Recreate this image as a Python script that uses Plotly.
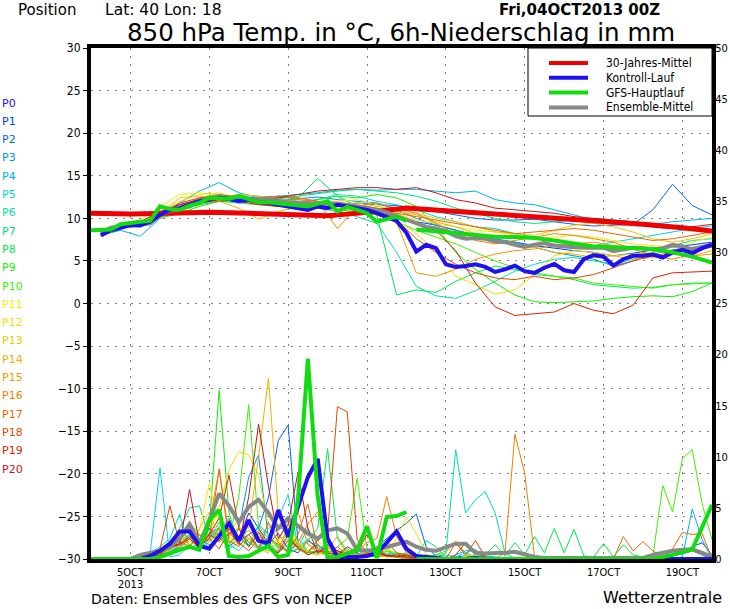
import plotly.graph_objects as go

# time axis in hours after Fri 04 Oct 2013 00Z
hours_6h = list(range(6, 379, 6))
hours_12h = list(range(6, 379, 12))
main_hours_1 = list(range(0, 193, 6))
main_hours_2 = list(range(198, 379, 12))
clim_hours = [0, 24, 48, 72, 96, 120, 144, 168, 192, 216, 240, 264, 288, 312, 336, 360, 378]

tick_hours = [24, 72, 120, 168, 216, 264, 312, 360]
tick_labels = ["5OCT", "7OCT", "9OCT", "11OCT", "13OCT", "15OCT", "17OCT", "19OCT"]
year_label = "2013"

member_names = ["P%d" % i for i in range(21)]
member_colors = ["#2010f0", "#0040f0", "#0068f0", "#0090f0", "#00b0f0", "#00d4ec",
                 "#00e0a8", "#00e080", "#00e850", "#10f000", "#40f000", "#f0f000",
                 "#f0e000", "#f0c800", "#f0b000", "#f09800", "#f08000", "#e86800",
                 "#e04800", "#d02800", "#c01818"]

legend_names = ["30-Jahres-Mittel", "Kontroll-Lauf", "GFS-Hauptlauf", "Ensemble-Mittel"]
legend_colors = ["#f00000", "#2010f0", "#10dc10", "#888888"]

# 30-Jahres-Mittel
clim_temp = [10.6, 10.5, 10.6, 10.7, 10.6, 10.5, 10.3, 10.7, 11.2, 10.9, 10.6, 10.3, 9.9, 9.6, 9.3, 8.9, 8.5]

# Kontroll-Lauf (P0), 6h
control_temp = [8.0, 8.6, 8.9, 9.2, 9.2, 9.6, 10.4, 11.0, 11.2, 11.6,
                12.0, 12.2, 12.4, 12.3, 12.0, 12.2, 11.9, 11.8, 11.6, 11.5,
                11.2, 11.0, 11.4, 11.2, 11.6, 11.4, 11.2, 11.0, 10.6, 10.2,
                9.7, 8.3, 6.1, 6.9, 6.5, 4.6, 4.3, 4.4, 4.6, 4.3,
                3.7, 4.0, 4.45, 3.8, 3.6, 4.2, 4.65, 3.9, 3.7, 5.2,
                5.7, 5.5, 4.45, 5.2, 5.6, 5.6, 5.75, 5.4, 6.0, 6.3,
                5.9, 6.5, 6.9]
control_prec = [0, 0, 0, 0, 0, 0.3, 0.8, 1.5, 2.7, 2.7,
                1.3, 1.0, 2.2, 3.5, 1.8, 3.8, 1.8, 1.5, 4.8, 2.2,
                5.1, 8.0, 9.8, 2.0, 0.2, 0.2, 0.2, 0.3, 0.6, 1.6,
                2.7, 1.0, 0.3, 0.2, 0.1, 0, 0, 0, 0.1, 0,
                0, 0, 0, 0, 0, 0, 0, 0, 0, 0,
                0, 0, 0, 0, 0, 0, 0, 0, 0, 0,
                0, 0, 0]

# Ensemble-Mittel, 6h
mean_temp = [8.3, 8.9, 9.0, 9.15, 9.3, 9.4, 10.4, 10.9, 11.1, 11.4,
             12.1, 12.4, 12.5, 12.4, 12.3, 12.2, 12.2, 12.2, 12.0, 11.9,
             11.8, 11.8, 11.8, 11.8, 11.7, 11.6, 11.4, 11.3, 11.0, 10.7,
             10.3, 9.9, 9.4, 9.0, 8.8, 8.5, 7.9, 7.6, 7.7, 7.6,
             7.3, 7.2, 6.9, 6.65, 6.9, 7.1, 6.8, 6.65, 6.6, 6.55,
             6.5, 6.55, 6.15, 6.3, 6.55, 6.5, 6.35, 6.5, 6.9, 6.7,
             6.35, 6.6, 6.9]
mean_prec = [0, 0, 0, 0, 0.4, 0.6, 0.8, 1.2, 2.0, 3.4,
             1.5, 3.8, 6.4, 5.2, 3.6, 5.1, 5.8, 4.5, 3.0, 4.0,
             3.2, 2.5, 2.0, 2.8, 3.0, 2.5, 0.9, 0.8, 0.9, 1.2,
             1.5, 1.7, 1.2, 0.9, 0.8, 1.2, 1.5, 1.5, 0.6, 0.55,
             0.55, 0.6, 0.7, 0.4, 0.2, 0.1, 0.1, 0.1, 0.1, 0.1,
             0.1, 0.1, 0.1, 0.1, 0.1, 0.1, 0.4, 0.6, 0.8, 0.9,
             0.95, 0.6, 0.2]

# GFS-Hauptlauf: 6h up to 192h, then 12h
main_temp_1 = [8.6, 8.6, 8.7, 9.3, 9.5, 9.6, 9.7, 11.4, 11.1, 11.0,
               11.5, 11.8, 12.4, 12.4, 12.3, 12.6, 12.2, 11.9, 11.9, 11.8,
               11.6, 11.5, 11.4, 11.7, 12.0, 10.8, 11.35, 11.0, 10.6, 9.6,
               9.85, 10.2, 9.7]
main_temp_2 = [8.7, 8.5, 8.2, 8.0, 7.85, 7.8, 7.7, 7.4, 7.0, 6.7, 6.6, 6.55, 6.4, 6.0, 5.5, 4.8]
main_prec_1 = [0, 0, 0, 0, 0, 0, 0, 0.2, 0.6, 0.9,
               1.2, 0.9, 3.8, 4.8, 0.3, 0.2, 0.3, 0.8, 1.3, 0.2,
               0.4, 5.8, 19.6, 6.1, 0.1, 0.2, 0.6, 0.9, 3.2, 0.1,
               4.1, 4.2, 4.6]
main_prec_2 = [0, 0, 0, 0, 0, 0, 0, 0, 0, 0, 0, 0, 0, 0.4, 0.95, 5.3]

# members P1..P20, temperature every 12h
member_temp = [
    [8.0, 8.8, 9.4, 10.5, 11.6, 12.2, 12.6, 12.0, 11.8, 11.6, 11.5, 11.9, 11.6, 11.3, 10.8, 10.2,
     9.6, 9.2, 8.6, 8.0, 7.5, 7.2, 6.8, 6.5, 6.2, 6.0, 5.6, 5.9, 6.3, 6.6, 6.9, 7.2],
    [8.3, 9.1, 9.0, 10.0, 11.0, 12.4, 12.8, 12.5, 12.3, 12.2, 11.6, 11.4, 11.5, 11.8, 11.6, 11.5,
     11.2, 10.8, 10.4, 10.0, 9.8, 9.8, 9.9, 9.6, 9.3, 9.1, 9.2, 9.3, 11.0, 14.0, 11.5, 10.4],
    [8.1, 9.2, 9.6, 10.4, 11.0, 11.8, 12.2, 12.6, 12.4, 12.0, 12.3, 12.5, 12.2, 12.0, 11.8, 11.0,
     10.0, 9.2, 8.6, 8.0, 7.6, 7.2, 6.6, 6.0, 5.6, 5.2, 4.4, 5.0, 5.8, 6.3, 6.6, 7.0],
    [8.0, 8.6, 7.9, 10.0, 11.8, 13.2, 14.2, 13.0, 12.4, 12.6, 12.8, 13.0, 13.3, 13.4, 13.3, 13.4,
     13.4, 13.2, 13.0, 13.2, 12.2, 11.8, 11.6, 11.0, 10.4, 9.8, 9.4, 9.3, 9.3, 9.6, 9.8, 10.0],
    [8.4, 9.0, 9.2, 10.6, 11.4, 12.0, 12.2, 12.8, 12.6, 12.4, 12.0, 12.2, 12.8, 12.6, 12.0, 11.6,
     11.0, 10.2, 9.6, 9.0, 8.8, 8.2, 7.8, 7.4, 7.0, 6.8, 7.2, 7.6, 8.0, 8.4, 8.8, 9.1],
    [8.2, 8.8, 9.4, 10.2, 11.0, 11.6, 12.0, 11.8, 11.6, 11.8, 11.4, 11.2, 10.8, 10.2, 9.4, 6.0,
     2.0, 0.9, 0.6, 1.5, 2.6, 3.8, 4.6, 5.2, 5.4, 5.0, 4.6, 5.2, 6.0, 6.8, 7.4, 7.6],
    [8.3, 9.2, 9.5, 10.4, 11.2, 12.2, 12.6, 12.3, 12.1, 12.4, 12.6, 12.9, 13.2, 13.4, 13.2, 13.0,
     12.6, 12.0, 11.2, 10.6, 10.0, 9.6, 9.4, 9.6, 9.8, 10.0, 9.8, 9.6, 9.4, 9.0, 8.8, 8.6],
    [8.2, 9.1, 9.0, 10.2, 11.2, 12.0, 12.2, 12.0, 11.9, 12.1, 12.4, 14.7, 12.6, 11.4, 10.4, 1.0,
     1.6, 1.3, 2.6, 3.6, 4.4, 4.0, 3.4, 3.2, 2.8, 2.2, 2.0, 1.8, 1.9, 2.2, 2.4, 2.4],
    [8.4, 9.3, 9.2, 10.0, 10.6, 11.4, 12.0, 12.0, 11.8, 11.6, 11.8, 12.2, 12.6, 12.4, 12.8, 12.4,
     11.4, 9.0, 6.0, 4.0, 2.4, 1.0, 0.2, 0.1, 0.2, 0.3, 0.6, 0.8, 0.9, 0.8, 1.4, 2.4],
    [8.0, 8.8, 9.2, 10.2, 11.0, 11.8, 12.4, 12.4, 12.0, 11.6, 11.4, 11.2, 11.0, 10.8, 10.4, 9.6,
     8.6, 7.8, 7.0, 6.0, 5.0, 4.2, 3.6, 3.2, 3.0, 2.4, 2.2, 2.0, 1.8, 2.2, 2.3, 2.4],
    [8.6, 9.4, 9.8, 11.4, 12.8, 13.0, 12.6, 12.0, 11.6, 11.4, 11.6, 11.8, 12.0, 12.2, 11.6, 10.6,
     9.8, 9.4, 9.0, 8.6, 8.4, 8.0, 7.6, 7.8, 8.0, 7.8, 7.4, 7.0, 6.8, 6.6, 7.2, 7.8],
    [8.3, 9.0, 9.4, 10.8, 12.0, 12.8, 13.0, 12.4, 12.2, 12.0, 11.6, 11.2, 11.0, 11.4, 11.2, 9.8,
     8.2, 6.2, 3.2, 2.2, 1.1, 1.6, 3.4, 5.6, 6.2, 6.0, 5.6, 5.8, 6.0, 6.2, 6.6, 6.8],
    [8.0, 8.8, 9.6, 10.6, 12.4, 12.6, 12.4, 12.8, 12.6, 12.2, 12.0, 11.6, 11.6, 11.8, 11.4, 11.0,
     10.6, 10.0, 9.6, 9.0, 8.4, 8.2, 8.0, 8.6, 9.2, 9.4, 9.0, 8.4, 7.6, 7.2, 7.6, 8.2],
    [8.5, 9.2, 9.1, 10.0, 11.0, 12.2, 12.0, 11.2, 9.9, 10.8, 11.4, 11.2, 11.4, 11.6, 11.2, 10.8,
     10.4, 9.6, 9.0, 8.2, 7.4, 7.0, 6.6, 6.0, 5.8, 5.4, 5.6, 5.2, 5.4, 5.8, 5.6, 6.2],
    [8.2, 9.0, 9.3, 10.4, 11.2, 12.0, 12.2, 12.2, 12.0, 11.6, 11.8, 11.6, 11.2, 11.0, 10.4, 9.6,
     3.6, 3.2, 4.0, 5.2, 5.8, 6.2, 6.4, 6.8, 7.0, 7.2, 6.8, 6.6, 6.4, 6.0, 5.6, 5.8],
    [8.1, 9.3, 9.5, 10.2, 11.4, 12.4, 12.8, 12.2, 12.4, 12.6, 12.2, 12.0, 8.8, 11.4, 11.8, 11.2,
     10.6, 9.4, 8.2, 7.4, 7.0, 7.4, 7.8, 8.2, 8.0, 7.6, 7.2, 6.4, 5.6, 5.2, 5.8, 6.8],
    [8.0, 8.9, 9.2, 10.4, 11.2, 11.8, 12.0, 12.2, 12.4, 12.6, 12.4, 12.0, 11.8, 11.2, 10.8, 10.6,
     10.2, 9.8, 9.4, 9.0, 8.6, 8.2, 8.4, 8.6, 8.8, 8.6, 8.2, 7.8, 7.4, 7.6, 8.0, 8.4],
    [8.4, 9.0, 9.2, 10.6, 11.8, 12.4, 12.6, 12.6, 12.2, 12.0, 11.8, 11.6, 11.6, 11.4, 11.0, 9.8,
     7.6, 6.0, 4.6, 3.6, 3.0, 2.8, 3.2, 2.8, 3.0, 3.4, 4.2, 5.0, 5.6, 6.0, 6.2, 6.6],
    [8.2, 9.1, 9.4, 10.4, 11.2, 11.8, 12.2, 12.0, 11.6, 11.4, 11.6, 11.8, 11.6, 11.2, 10.8, 10.2,
     9.4, 8.6, 6.2, 2.4, -0.4, -1.4, -1.2, -1.0, 0.0, -0.8, -1.2, -0.2, 3.0, 3.6, 3.7, 3.8],
    [8.3, 9.2, 9.6, 10.8, 11.6, 12.2, 12.4, 12.2, 12.0, 12.4, 12.8, 13.2, 13.4, 13.6, 13.6, 13.4,
     13.6, 13.0, 12.2, 11.8, 11.2, 11.0, 10.8, 10.6, 10.2, 10.0, 9.8, 9.6, 9.0, 8.8, 9.0, 9.3],
]

# members P1..P20, 6h precipitation
member_prec = [
    [0, 0, 0, 0, 0, 0.3, 0.6, 1.0, 2.0, 3.0, 1.5, 2.5, 3.0, 1.2, 2.0, 4.5, 3.0, 1.5, 2.5, 1.0,
     0.6, 1.8, 1.2, 0.5, 0.8, 0.4, 0.2, 0.6, 0.8, 0.4, 0.2, 0.3, 0.1, 0, 0, 0, 0.2, 0.3, 0.1, 0,
     0, 0, 0, 0, 0, 0, 0, 0, 0, 0, 0, 0, 0, 0, 0, 0, 0, 0.2, 0.4, 0.6, 1.2, 1.6, 0.4],
    [0, 0, 0, 0, 0, 0.2, 0.5, 0.8, 1.2, 2.2, 1.0, 3.0, 2.2, 3.6, 1.8, 2.4, 3.0, 6.0, 11.6, 13.1,
     1.6, 0.8, 1.4, 0.6, 0.3, 0.2, 0.4, 0.6, 1.2, 2.0, 2.8, 3.5, 4.4, 1.2, 0.3, 0.1, 0, 0, 0, 0,
     0, 0, 0, 0, 0, 0, 0, 0, 0, 0, 0, 0, 0, 0, 0, 0, 0, 0, 0.3, 0.5, 0.8, 0.4, 0],
    [0, 0, 0, 0, 0, 0.4, 0.8, 1.0, 1.4, 2.4, 2.0, 1.4, 1.8, 2.4, 3.0, 8.0, 10.2, 2.0, 1.2, 0.8,
     1.4, 0.6, 0.8, 1.6, 0.6, 0.3, 0.6, 0.2, 0.8, 0.3, 0.2, 0.1, 0, 0, 0, 0, 0, 0.2, 0.4, 0.1,
     0, 0, 0, 0, 0, 0, 0, 0, 0, 0, 0, 0, 0, 0, 0, 0, 0, 0, 0, 0, 0, 0, 0],
    [0, 0, 0, 0, 0, 0.2, 0.5, 0.9, 1.6, 1.2, 2.4, 1.0, 2.6, 4.0, 2.0, 1.4, 2.2, 1.8, 3.2, 2.6,
     1.0, 2.0, 0.8, 0.4, 0.6, 0.2, 0.5, 0.3, 0.2, 0.4, 0.6, 0.3, 0.2, 0.4, 0.1, 0, 0.4, 0.8, 0.9, 0.3,
     0.2, 0.1, 0, 0, 0, 0, 0, 0, 0, 0, 0, 0, 0, 0, 0, 0, 0, 0, 0, 0.2, 4.9, 1.9, 0],
    [0, 0, 0, 0, 0, 0.5, 8.9, 0.2, 0.4, 1.4, 0.8, 2.0, 3.2, 1.0, 1.6, 2.4, 1.2, 3.0, 4.0, 6.3,
     1.2, 0.8, 0.4, 1.8, 0.6, 0.3, 0.2, 0.4, 0.3, 0.6, 0.4, 0.2, 0, 0, 0.3, 0.4, 0.2, 0.6, 0.9, 0.2,
     0.1, 0, 0, 0, 0, 0, 0, 0, 0, 0, 0, 0, 0, 0, 0, 0, 0, 0, 0, 0, 0, 0, 0],
    [0, 0, 0, 0, 0, 0.6, 1.2, 2.0, 4.4, 1.0, 1.6, 1.0, 2.2, 1.4, 0.8, 2.0, 1.2, 1.8, 0.6, 1.4,
     2.0, 0.8, 1.2, 0.6, 0.4, 1.0, 0.2, 0.3, 0.6, 0.4, 0.2, 0, 0.2, 0.4, 0.3, 0.6, 10.7, 4.5, 5.8, 6.6,
     4.5, 0.6, 0, 0, 0, 0, 0, 0, 0, 0, 0, 0, 0, 0, 0, 0, 0, 0, 0, 0, 0, 0, 0],
    [0, 0, 0, 0, 0, 0.2, 0.8, 1.4, 3.0, 5.0, 5.2, 2.0, 3.6, 1.6, 2.2, 1.2, 3.4, 2.4, 1.0, 2.0,
     1.2, 3.0, 1.4, 0.8, 0.4, 0.2, 0.6, 0.2, 0.4, 0.8, 0.6, 0.2, 0.1, 0, 0.4, 0.8, 1.6, 0.6, 0.2, 0,
     0, 0, 0, 0, 0, 0, 0, 0, 0, 0, 0, 0, 0, 0, 0, 0, 0, 0, 0, 0, 0, 0, 0],
    [0, 0, 0, 0, 0, 0.2, 0.4, 0.6, 1.2, 2.2, 1.4, 2.6, 2.0, 1.2, 3.0, 1.6, 1.0, 2.2, 1.4, 0.6,
     1.0, 1.8, 3.0, 10.8, 2.0, 0.6, 0.4, 1.0, 0.6, 0.8, 0.4, 0.6, 0.2, 1.8, 1.2, 0.2, 0, 0.1, 0.2, 0.4,
     1.4, 0.3, 1.6, 0.4, 2.2, 0.6, 3.0, 0.6, 2.9, 0.3, 0.2, 1.5, 0.2, 1.4, 0.4, 0.2, 0.3, 0, 0, 0,
     0, 0, 0],
    [0, 0, 0, 0, 0, 0.3, 0.6, 1.0, 1.8, 2.4, 1.2, 3.2, 16.5, 4.5, 1.4, 2.0, 1.2, 0.8, 1.6, 0.6,
     1.0, 0.4, 0.8, 0.4, 0.2, 0.6, 1.2, 0.3, 0.2, 0.4, 0.2, 0.1, 0, 0, 0, 0, 0, 0, 0, 0,
     0, 0, 0, 0, 0, 0, 0, 0, 0, 0, 0, 0, 0, 0, 0, 0, 0, 0, 0, 0, 0, 0, 0],
    [0, 0, 0, 0, 0, 0.2, 0.4, 1.2, 2.0, 3.6, 2.4, 1.6, 2.8, 2.0, 6.1, 15.1, 3.2, 2.0, 1.2, 2.6,
     1.4, 0.8, 0.6, 0.4, 1.2, 2.0, 7.9, 1.0, 0.4, 0.8, 0.3, 0.2, 0, 0, 0, 0, 0, 0, 0, 0,
     0, 0, 0, 0, 0, 0, 0, 0, 0, 0, 0, 0, 0, 0, 0, 0, 0.2, 7.2, 4.6, 9.85, 10.7, 5.4, 1.9],
    [0, 0, 0, 0, 0, 0.4, 0.8, 1.6, 2.4, 1.6, 2.8, 7.4, 3.0, 2.2, 1.4, 3.6, 2.4, 1.2, 2.0, 3.4,
     1.6, 0.8, 1.2, 0.4, 0.6, 0.2, 0.4, 0.6, 0.8, 1.0, 0.6, 0.4, 0.2, 0, 0, 0, 0, 0.2, 0.1, 0,
     0, 0, 0, 0, 0, 0, 0, 0, 0, 0, 0, 0, 0, 0, 0, 0, 0, 0, 0, 0, 0, 0, 0],
    [0, 0, 0, 0, 0, 0.3, 0.6, 0.8, 1.4, 2.0, 1.2, 2.6, 5.0, 8.7, 10.5, 10.2, 8.2, 3.2, 1.6, 2.8,
     1.2, 0.6, 1.8, 0.8, 0.4, 0.6, 0.2, 0.8, 1.2, 0.6, 2.0, 4.1, 2.5, 0.4, 0.2, 0, 0, 0.3, 0.4, 0,
     0, 0, 0, 0, 0, 0, 0, 0, 0, 0, 0, 0, 0, 0, 0, 0, 0, 0, 0, 0, 0, 0, 0],
    [0, 0, 0, 0, 0, 0.2, 0.4, 1.0, 1.6, 1.2, 3.0, 4.6, 2.0, 1.4, 3.2, 2.0, 1.0, 0.6, 1.8, 3.8,
     1.4, 0.6, 0.4, 1.0, 0.6, 0.8, 0.3, 0.4, 0.6, 0.2, 0.4, 0.2, 0.1, 0, 0.3, 0.6, 1.8, 0.4, 0.2, 0,
     0, 0, 0, 0, 0, 0, 0, 0, 0, 0, 0, 0, 0, 0, 0, 0, 0, 0, 0, 0, 0, 0, 0],
    [0, 0, 0, 0, 0, 0.2, 0.6, 1.2, 2.2, 1.4, 2.0, 3.4, 1.6, 2.4, 4.0, 3.0, 10.0, 17.7, 4.5, 2.0,
     1.2, 1.6, 0.6, 0.4, 0.8, 0.3, 0.2, 0.6, 0.4, 0.2, 0.2, 0, 0, 0, 0, 0, 0, 0, 0, 0,
     0, 0, 0, 0, 0, 0, 0, 0, 0, 0, 0, 0, 0, 0, 0, 0, 0, 0, 0, 0, 0, 0, 0],
    [0, 0, 0, 0, 0, 0.4, 0.8, 1.4, 2.6, 2.0, 1.0, 3.6, 8.8, 2.4, 3.0, 1.6, 2.8, 1.2, 0.8, 3.2,
     4.6, 1.4, 0.6, 1.0, 2.2, 0.8, 0.4, 0.6, 0.2, 0.4, 0.2, 0, 0, 0, 0, 0, 0, 0, 0, 0,
     0, 0, 0, 0, 0, 0, 0, 0, 0, 0, 0, 0, 0, 0, 0, 0, 0, 0, 0, 0, 0, 0, 0],
    [0, 0, 0, 0, 0, 0.3, 0.6, 1.0, 1.8, 1.2, 2.4, 1.8, 3.0, 1.6, 2.2, 2.8, 1.6, 2.0, 1.4, 0.8,
     1.6, 3.4, 4.6, 1.2, 0.6, 0.4, 0.8, 1.6, 2.0, 6.1, 2.2, 0.6, 0.4, 0.2, 0, 0, 0, 0, 0, 0,
     0, 0.6, 12.2, 8.4, 0.2, 0, 0, 0, 0, 0, 0, 0, 0, 0, 0, 0, 0, 0, 0, 0, 0, 0, 0],
    [0, 0, 0, 0, 0, 0.2, 0.8, 1.6, 1.0, 2.0, 1.2, 2.0, 8.8, 1.8, 1.2, 2.4, 1.0, 3.6, 1.6, 0.6,
     2.4, 5.4, 1.0, 0.6, 1.2, 0.4, 0.2, 0.6, 1.2, 0.4, 0.2, 0.1, 0, 0, 0, 0, 0, 0, 0, 0,
     0, 0, 0, 0, 0, 0, 0, 0, 0, 0, 0, 0, 0, 2.2, 0.8, 1.7, 0.8, 0.2, 1.0, 2.6, 2.4, 2.5, 0],
    [0, 0, 0, 0, 0, 0.2, 1.0, 5.2, 1.5, 2.2, 1.4, 2.0, 1.0, 2.6, 1.6, 0.8, 2.0, 1.2, 0.6, 2.4,
     1.0, 0.6, 1.8, 2.6, 14.9, 14.4, 1.9, 0.6, 0.4, 1.8, 0.6, 0.4, 0.2, 0, 0, 0, 1.6, 0.4, 1.8, 0.2,
     0, 0, 0, 0, 0, 0, 0, 0, 0, 0, 0, 0, 0, 0, 0, 0, 0, 0, 0, 0, 0, 0, 0],
    [0, 0, 0, 0, 0, 0.4, 0.6, 1.2, 1.4, 2.0, 1.0, 2.4, 4.0, 8.2, 3.0, 1.2, 2.6, 1.0, 0.6, 1.8,
     1.2, 0.4, 0.8, 0.6, 0.4, 1.2, 0.6, 2.4, 0.8, 0.3, 0.2, 0.4, 0.2, 0.1, 0, 0, 0.4, 1.6, 0.6, 0.2,
     0, 0, 0, 0, 0, 0, 0, 0, 0, 0, 0, 0, 0, 0, 0, 0, 0, 0, 0, 0, 0, 0, 0],
    [0, 0, 0, 0, 0, 0.2, 0.4, 1.2, 1.5, 6.8, 1.5, 2.4, 1.8, 3.0, 1.4, 6.1, 13.2, 7.1, 2.0, 3.4,
     8.5, 3.0, 0.6, 1.4, 0.8, 0.4, 0.2, 0.4, 0.6, 0.3, 0.4, 0.2, 0.1, 0, 0, 0, 0, 0, 0, 0,
     0, 0, 0, 0, 0, 0, 0, 0, 0, 0, 0, 0, 0, 0, 0, 0, 0, 0, 0, 0, 0, 0, 0],
]

COND = "DejaVu Sans Condensed, DejaVu Sans, sans-serif"
WIDE = "DejaVu Sans, sans-serif"

# plot area in pixels (for placing texts around it)
L, R, T, B = 91, 712, 48, 559


def px(x):
    return (x - L) / (R - L)


def py(y):
    return (B - y) / (B - T)


fig = go.Figure()

# thin member lines
for i in range(20):
    fig.add_trace(go.Scatter(x=hours_12h, y=member_temp[i], mode="lines",
                             line=dict(color=member_colors[i + 1], width=1),
                             showlegend=False, hoverinfo="skip"))
for i in range(20):
    fig.add_trace(go.Scatter(x=hours_6h, y=member_prec[i], mode="lines", yaxis="y2",
                             line=dict(color=member_colors[i + 1], width=1),
                             showlegend=False, hoverinfo="skip"))

# 30-Jahres-Mittel
fig.add_trace(go.Scatter(x=clim_hours, y=clim_temp, mode="lines", name=legend_names[0],
                         line=dict(color=legend_colors[0], width=5)))
# Ensemble-Mittel
fig.add_trace(go.Scatter(x=hours_6h, y=mean_temp, mode="lines", name=legend_names[3],
                         line=dict(color=legend_colors[3], width=4)))
fig.add_trace(go.Scatter(x=hours_6h, y=mean_prec, mode="lines", yaxis="y2",
                         line=dict(color=legend_colors[3], width=4)))
# Kontroll-Lauf
fig.add_trace(go.Scatter(x=hours_6h, y=control_temp, mode="lines", name=legend_names[1],
                         line=dict(color=legend_colors[1], width=4)))
fig.add_trace(go.Scatter(x=hours_6h, y=control_prec, mode="lines", yaxis="y2",
                         line=dict(color=legend_colors[1], width=4)))
# GFS-Hauptlauf, gap where resolution changes
main_hours = main_hours_1 + [195] + main_hours_2
fig.add_trace(go.Scatter(x=main_hours, y=main_temp_1 + [None] + main_temp_2, mode="lines",
                         name=legend_names[2], line=dict(color=legend_colors[2], width=4),
                         connectgaps=False))
fig.add_trace(go.Scatter(x=main_hours, y=main_prec_1 + [None] + main_prec_2, mode="lines",
                         yaxis="y2", line=dict(color=legend_colors[2], width=4),
                         connectgaps=False))

grid = dict(showgrid=True, gridcolor="#808080", gridwidth=1, griddash="2px,6px")

fig.update_layout(
    width=730, height=609,
    margin=dict(l=L, r=730 - R, t=T, b=609 - B),
    paper_bgcolor="white", plot_bgcolor="white",
    font=dict(family=COND, size=11, color="black"),
    showlegend=False,
    xaxis=dict(range=[0, 378], tickmode="array", tickvals=tick_hours, ticktext=tick_labels,
               ticks="", tickfont=dict(size=11),
               showline=True, linecolor="black", linewidth=4, mirror=True,
               zeroline=False, automargin=False, **grid),
    yaxis=dict(range=[-30, 30], dtick=5, ticks="outside", ticklen=4, tickcolor="black",
               tickfont=dict(size=12),
               showline=True, linecolor="black", linewidth=4, mirror=True,
               zeroline=False, automargin=False, **grid),
    yaxis2=dict(range=[0, 50], dtick=5, overlaying="y", side="right", ticks="",
                tickfont=dict(size=11), ticklabelstandoff=-3, showline=True,
                linecolor="black", linewidth=4, showgrid=False, zeroline=False,
                automargin=False),
)

# year under the first date label
fig.add_annotation(text=year_label, x=tick_hours[0], xref="x", y=py(585), yref="paper",
                   xanchor="center", yanchor="middle", showarrow=False,
                   font=dict(family=COND, size=11, color="black"))

# legend box top right
fig.add_shape(type="rect", xref="paper", yref="paper", x0=px(528), x1=1, y0=py(116), y1=1,
              fillcolor="white", line=dict(color="black", width=1), layer="above")
for k, (name, color) in enumerate(zip(legend_names, legend_colors)):
    yk = py(63 + k * 14.8)
    fig.add_shape(type="line", xref="paper", yref="paper", x0=px(549), x1=px(588),
                  y0=yk, y1=yk, line=dict(color=color, width=4), layer="above")
    fig.add_annotation(text=name, xref="paper", yref="paper", x=px(604), y=yk,
                       xanchor="left", yanchor="middle", showarrow=False,
                       font=dict(family=COND, size=12, color="black"))

# member labels on the left
for i, name in enumerate(member_names):
    fig.add_annotation(text=name, xref="paper", yref="paper",
                       x=px(0), y=py(103 + i * 18.3),
                       xanchor="left", yanchor="middle", showarrow=False,
                       font=dict(family=WIDE, size=11, color=member_colors[i]))

# header and footer texts: (text, x px, y px, xanchor, yanchor, size, bold)
texts = [
    ("Position", 17, 0, "left", "top", 15, False),
    ("Lat: 40 Lon: 18", 104, 0, "left", "top", 15.5, False),
    ("Fri,04OCT2013 00Z", 661, 0, "right", "top", 15, True),
    ("850 hPa Temp. in °C, 6h-Niederschlag in mm", 401, 16.5, "center", "top", 24.5, False),
    ("Daten: Ensembles des GFS von NCEP", 90, 608, "left", "bottom", 14, False),
    ("Wetterzentrale", 723, 608, "right", "bottom", 16, False),
]
for t, x, y, xa, ya, size, bold in texts:
    fig.add_annotation(text="<b>%s</b>" % t if bold else t, xref="paper", yref="paper",
                       x=px(x), y=py(y), xanchor=xa, yanchor=ya, showarrow=False,
                       borderpad=0, font=dict(family=WIDE, size=size, color="black"))

# the page margin would push the figure 8px away from the window corner
fig.write_html("out.html", config={"displayModeBar": False},
               post_script="document.body.style.margin = '0';")
